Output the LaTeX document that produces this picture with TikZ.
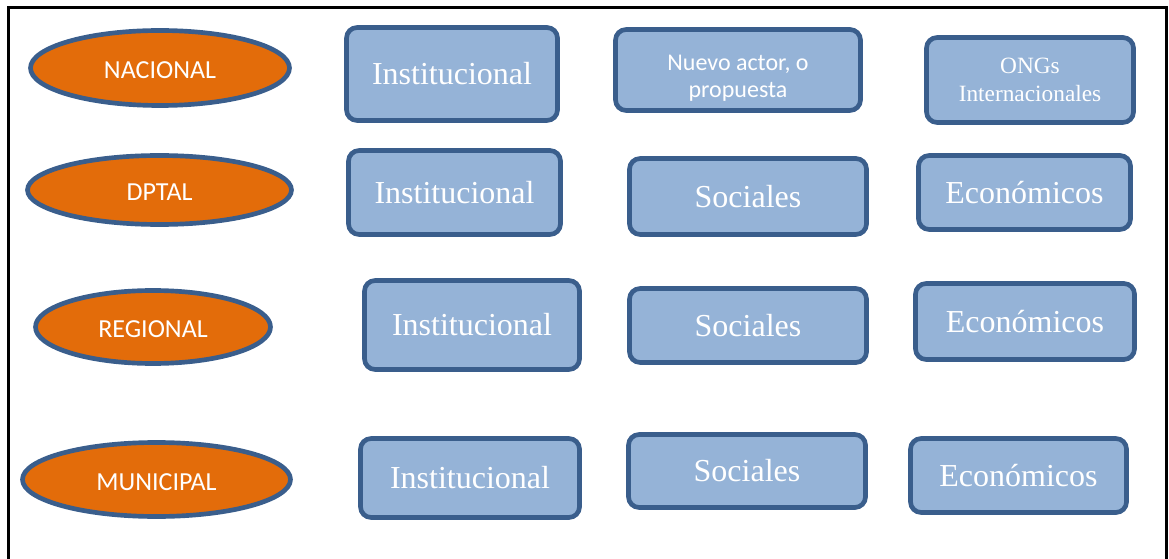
\documentclass[tikz,border=0pt]{standalone}
\usepackage{fontspec}
\setmainfont{Liberation Serif}
\newfontfamily\calibri{Carlito}
\definecolor{myorange}{RGB}{227,108,10}
\definecolor{myedge}{RGB}{58,94,140}
\definecolor{myblue}{RGB}{149,179,215}
\usetikzlibrary{shapes.geometric}
\tikzset{every picture/.style={line width=0.75pt}}
\tikzset{
  tier/.style={ellipse, draw=myedge, line width=3.5pt, fill=myorange, text=white,
    font=\calibri\fontsize{19.5}{23}\selectfont, inner sep=0pt, text height=16pt, text depth=0pt},
  actor/.style={rectangle, rounded corners=8pt, draw=myedge, line width=3.5pt, fill=myblue,
    text=white, font=\fontsize{24}{28}\selectfont, inner sep=0pt, align=center},
  boxsize/.style 2 args={minimum width=#1*0.75pt, minimum height=#2*0.75pt}
}

\begin{document}
\begin{tikzpicture}[x=0.75pt,y=0.75pt,yscale=-1,xscale=1]
\useasboundingbox (0,0) rectangle (1169,559);

%Frame, open at the bottom
\draw [line width=2.25pt] (8,575) -- (8,8) -- (1166,8) -- (1166,575) ;

%Shape: Ellipse
\node [tier, boxsize={259}{75}] (nacional) at (160,68) {NACIONAL};
%Shape: Ellipse
\node [tier, boxsize={264}{69}] (dptal) at (159.5,190) {DPTAL};
%Shape: Ellipse
\node [tier, boxsize={235}{73}] (regional) at (153,327) {REGIONAL};
%Shape: Ellipse
\node [tier, boxsize={268}{74}] (municipal) at (156.5,479.5) {MUNICIPAL};

%Shape: Rounded Rectangle
\node [actor, boxsize={211}{93}] (nacInst) at (452,74) {Institucional};
%Shape: Rounded Rectangle
\node [actor, boxsize={245}{81}, font=\calibri\fontsize{18}{20.5}\selectfont, text height=44pt] (nacNuevo) at (738,70) {Nuevo actor, o\\propuesta};
%Shape: Rounded Rectangle
\node [actor, boxsize={207}{85}, font=\fontsize{17.5}{21}\selectfont] (nacOng) at (1030,80) {ONGs\\Internacionales};

%Shape: Rounded Rectangle
\node [actor, boxsize={212}{84}] (dptInst) at (454.5,192.5) {Institucional};
%Shape: Rounded Rectangle
\node [actor, boxsize={237}{76}] (dptSoc) at (748,196.5) {Sociales};
%Shape: Rounded Rectangle
\node [actor, boxsize={212}{74}] (dptEco) at (1024.5,192.5) {Económicos};

%Shape: Rounded Rectangle
\node [actor, boxsize={215}{89}] (regInst) at (472,325) {Institucional};
%Shape: Rounded Rectangle
\node [actor, boxsize={237}{74}] (regSoc) at (748,325.5) {Sociales};
%Shape: Rounded Rectangle
\node [actor, boxsize={219}{76}] (regEco) at (1025,321.5) {Económicos};

%Shape: Rounded Rectangle
\node [actor, boxsize={219}{79}] (munInst) at (470,478) {Institucional};
%Shape: Rounded Rectangle
\node [actor, boxsize={237}{73}] (munSoc) at (747,471) {Sociales};
%Shape: Rounded Rectangle
\node [actor, boxsize={216}{74}] (munEco) at (1018.5,475.5) {Económicos};

\end{tikzpicture}
\end{document}
